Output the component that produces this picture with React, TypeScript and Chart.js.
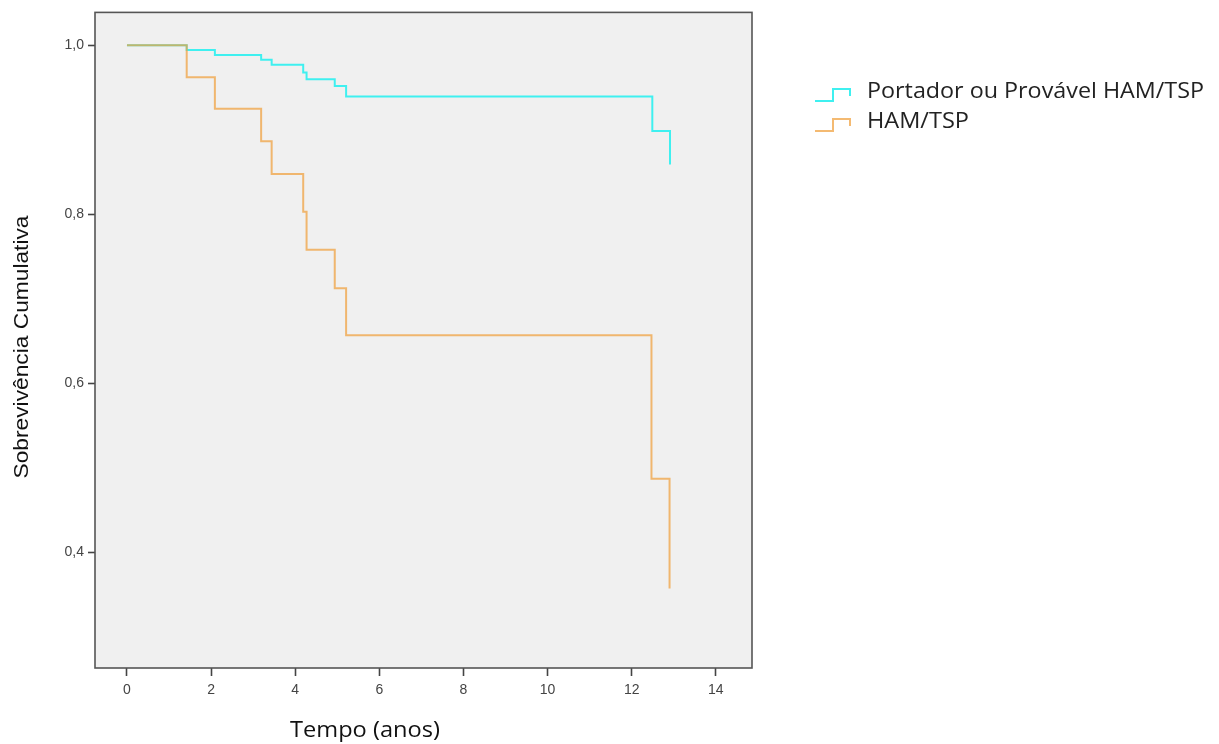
import React, { useEffect, useRef } from "react";
import { Chart, registerables } from "chart.js";

Chart.register(...registerables);

const seriesNames = ["Portador ou Provável HAM/TSP", "HAM/TSP"];
const cyanTimes = [0, 1.42, 2.09, 3.19, 3.44, 4.19, 4.27, 4.94, 5.21, 12.49, 12.91];
const cyanSurvival = [1.0, 0.9945, 0.9886, 0.983, 0.977, 0.968, 0.96, 0.952, 0.9395, 0.8986, 0.859];
const orangeTimes = [0, 1.42, 2.09, 3.19, 3.44, 4.19, 4.27, 4.94, 5.21, 12.47, 12.9];
const orangeSurvival = [1.0, 0.9623, 0.9249, 0.8865, 0.8476, 0.803, 0.758, 0.7124, 0.657, 0.487, 0.357];
const xTicks = [0, 2, 4, 6, 8, 10, 12, 14];
const yTicks = [0.4, 0.6, 0.8, 1.0];

const CYAN = "#3ff0f0";
const ORANGE = "rgba(240,160,60,0.72)";

function fitText(ctx: any, text: string, x: number, y: number, width: number) {
  const w = ctx.measureText(text).width;
  ctx.save();
  ctx.translate(x, y);
  ctx.scale(width / w, 1);
  ctx.fillText(text, 0, 0);
  ctx.restore();
}

const framePlugin = {
  id: "frameAndText",
  beforeDraw(chart: any) {
    const { ctx, chartArea: a } = chart;
    ctx.save();
    ctx.fillStyle = "#f0f0f0";
    ctx.fillRect(a.left, a.top, a.right - a.left, a.bottom - a.top);
    ctx.restore();
  },
  afterDraw(chart: any) {
    const { ctx, chartArea: a } = chart;
    ctx.save();
    ctx.strokeStyle = "#555555";
    ctx.lineWidth = 1.6;
    ctx.strokeRect(a.left, a.top, a.right - a.left, a.bottom - a.top);

    // axis titles
    ctx.fillStyle = "#111111";
    ctx.font = "21px 'Open Sans', sans-serif";
    ctx.textAlign = "center";
    ctx.textBaseline = "middle";
    fitText(ctx, "Tempo (anos)", 365, 731, 150);

    ctx.save();
    ctx.translate(22, 347);
    ctx.rotate(-Math.PI / 2);
    ctx.font = "21px 'Liberation Sans Narrow', 'Liberation Sans', sans-serif";
    fitText(ctx, "Sobrevivência Cumulativa", 0, 0, 263);
    ctx.restore();

    // legend
    const items = [
      { color: CYAN, y: 92, label: seriesNames[0], w: 337 },
      { color: ORANGE, y: 122, label: seriesNames[1], w: 102 },
    ];
    items.forEach((it) => {
      ctx.strokeStyle = it.color;
      ctx.lineWidth = 2;
      ctx.beginPath();
      ctx.moveTo(815, it.y + 9);
      ctx.lineTo(833, it.y + 9);
      ctx.lineTo(833, it.y - 3);
      ctx.lineTo(850, it.y - 3);
      ctx.lineTo(850, it.y + 4);
      ctx.stroke();
      ctx.fillStyle = "#222222";
      ctx.font = "22px 'Open Sans', sans-serif";
      ctx.textAlign = "left";
      ctx.textBaseline = "middle";
      fitText(ctx, it.label, 867, it.y, it.w);
    });
    ctx.restore();
  },
};

export default function App() {
  const ref = useRef<HTMLCanvasElement | null>(null);

  useEffect(() => {
    document.body.style.margin = "0";
    const canvas = ref.current;
    if (!canvas) return;
    const chart = new Chart(canvas, {
      type: "line",
      data: {
        datasets: [
          {
            label: seriesNames[0],
            data: cyanTimes.map((t, i) => ({ x: t, y: cyanSurvival[i] })),
            borderColor: CYAN,
            borderWidth: 2,
            stepped: "before",
            pointRadius: 0,
            fill: false,
            order: 2,
          },
          {
            label: seriesNames[1],
            data: orangeTimes.map((t, i) => ({ x: t, y: orangeSurvival[i] })),
            borderColor: ORANGE,
            borderWidth: 2,
            stepped: "before",
            pointRadius: 0,
            fill: false,
            order: 1,
          },
        ],
      },
      options: {
        animation: false,
        responsive: false,
        layout: { padding: { left: 0, top: 10, right: 467, bottom: 0 } },
        plugins: {
          legend: { display: false },
          tooltip: { enabled: false },
        },
        scales: {
          x: {
            type: "linear",
            min: -0.76,
            max: 14.86,
            afterFit: (s: any) => {
              s.height = 76;
            },
            afterBuildTicks: (s: any) => {
              s.ticks = xTicks.map((v) => ({ value: v }));
            },
            grid: {
              drawOnChartArea: false,
              drawTicks: true,
              tickLength: 8,
              tickWidth: 1.6,
              color: "#444444",
            },
            border: { display: false },
            ticks: {
              padding: 6,
              color: "#444444",
              font: { family: "'Liberation Sans', sans-serif", size: 14 },
              maxRotation: 0,
              callback: (v: any) => String(v),
            },
          },
          y: {
            type: "linear",
            min: 0.263,
            max: 1.039,
            afterFit: (s: any) => {
              s.width = 95;
            },
            afterBuildTicks: (s: any) => {
              s.ticks = yTicks.map((v) => ({ value: v }));
            },
            grid: {
              drawOnChartArea: false,
              drawTicks: true,
              tickLength: 7,
              tickWidth: 1.6,
              color: "#444444",
            },
            border: { display: false },
            ticks: {
              padding: 4,
              color: "#444444",
              font: { family: "'Liberation Sans', sans-serif", size: 14 },
              callback: (v: any) => Number(v).toFixed(1).replace(".", ","),
            },
          },
        },
      },
      plugins: [framePlugin],
    });
    return () => chart.destroy();
  }, []);

  return (
    <div style={{ width: 1219, height: 744, background: "#ffffff" }}>
      <canvas ref={ref} width={1219} height={744} style={{ display: "block" }} />
    </div>
  );
}
